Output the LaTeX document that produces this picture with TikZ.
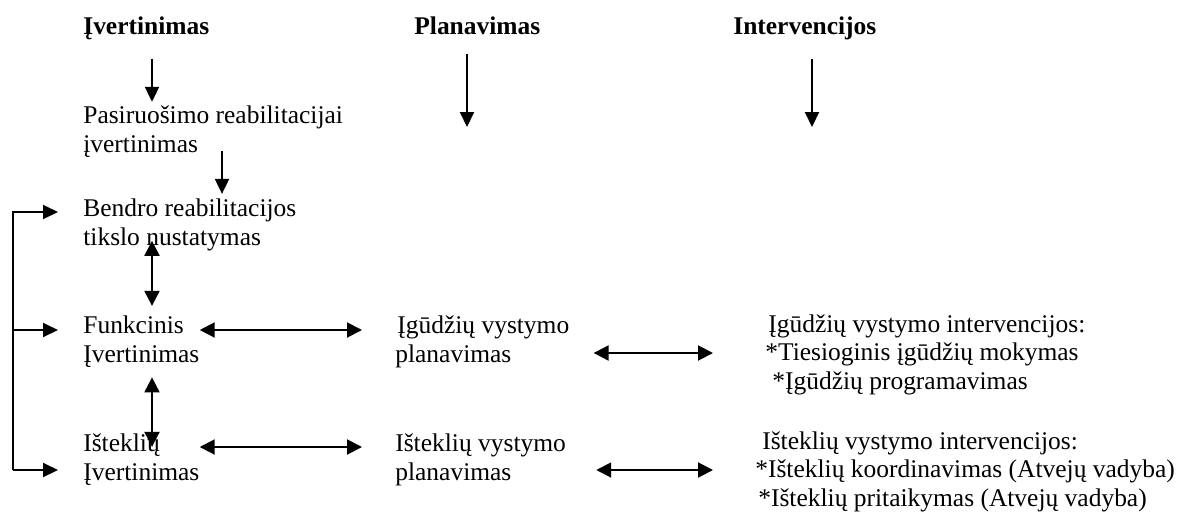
\documentclass[tikz,border=0pt]{standalone}
\usepackage{fontspec}
\setmainfont{Liberation Serif}
\usetikzlibrary{arrows.meta,positioning,calc}

\begin{document}
\begin{tikzpicture}[
  x=0.02cm, y=-0.02cm,
  txt/.style={anchor=base west, inner sep=0pt, align=left,
              font=\fontsize{14.5pt}{16pt}\selectfont},
  head/.style={txt, font=\fontsize{14.5pt}{16pt}\selectfont\bfseries},
  arr/.style={-{Triangle[length=0.3cm,width=0.28cm]}, line width=0.04cm},
  dbl/.style={{Triangle[length=0.3cm,width=0.3cm]}-{Triangle[length=0.3cm,width=0.3cm]},
              line width=0.04cm}
]
  \useasboundingbox (0,0) rectangle (1184,515);
  % column headings
  \node[head] (eval) at (83,34)  {Įvertinimas};
  \node[head] (plan) at (414,34) {Planavimas};
  \node[head] (intv) at (733,34) {Intervencijos};
  % assessment column (placed at the last baseline)
  \node[txt] (prep) at (83,152) {Pasiruošimo reabilitacijai\\įvertinimas};
  \node[txt] (goal) at (83,245) {Bendro reabilitacijos\\tikslo nustatymas};
  \node[txt] (func) at (83,362) {Funkcinis\\Įvertinimas};
  \node[txt] (res)  at (83,480) {Išteklių\\Įvertinimas};
  % planning column
  \node[txt] (skplan)  at (395,362) {\hspace*{0.04cm}Įgūdžių vystymo\\planavimas};
  \node[txt] (resplan) at (395,480) {Išteklių vystymo\\planavimas};
  % intervention column
  \node[txt] (skint)  at (765,389) {\hspace*{0.06cm}Įgūdžių vystymo intervencijos:\\{}*Tiesioginis įgūdžių mokymas\\\hspace*{0.14cm}*Įgūdžių programavimas};
  \node[txt] (resint) at (755,506) {\hspace*{0.14cm}Išteklių vystymo intervencijos:\\{}*Išteklių koordinavimas (Atvejų vadyba)\\\hspace*{0.06cm}*Išteklių pritaikymas (Atvejų vadyba)};

  % down arrows under the headings
  \coordinate (planend) at (467,127);
  \coordinate (intvend) at (812,127);
  \draw[arr] ([shift={(69,19)}]eval.south west) -- ([shift={(69,-4)}]eval.south west |- prep.north);
  \draw[arr] ([shift={(0,19)}]planend |- plan.south) -- (planend);
  \draw[arr] ([shift={(0,19)}]intvend |- intv.south) -- (intvend);
  \draw[arr] ([shift={(139,-6)}]prep.south west) -- ([shift={(139,-5)}]prep.south west |- goal.north);
  \draw[dbl] ([shift={(69,-10)}]goal.south west) -- ([shift={(69,-10)}]goal.south west |- func.north);
  \draw[dbl] ([shift={(69,10)}]func.south west) -- ([shift={(69,13)}]func.south west |- res.north);

  % feedback bracket on the left
  \coordinate (gtip) at ([shift={(-25,-33)}]goal.base west);
  \coordinate (ftip) at ([shift={(-25,-32)}]func.base west);
  \coordinate (rtip) at ([shift={(-25,-10)}]res.base west);
  \draw[arr] ([shift={(-45,0)}]rtip) |- (gtip);
  \draw[arr] ([shift={(-45,0)}]rtip) -- (rtip);
  \draw[arr] ([shift={(-45,0)}]ftip) -- (ftip);

  % links between the columns
  \draw[dbl] ([shift={(0,-32)}]func.base east) -- ([shift={(-33,-32)}]skplan.base west);
  \draw[dbl] ([shift={(0,-33)}]res.base east) -- ([shift={(-33,-33)}]resplan.base west);
  \draw[dbl] ([shift={(24,-9)}]skplan.base east) -- ([shift={(-52,-36)}]skint.base west);
  \draw[dbl] ([shift={(30,-10)}]resplan.base east) -- ([shift={(-42,-36)}]resint.base west);
\end{tikzpicture}
\end{document}
